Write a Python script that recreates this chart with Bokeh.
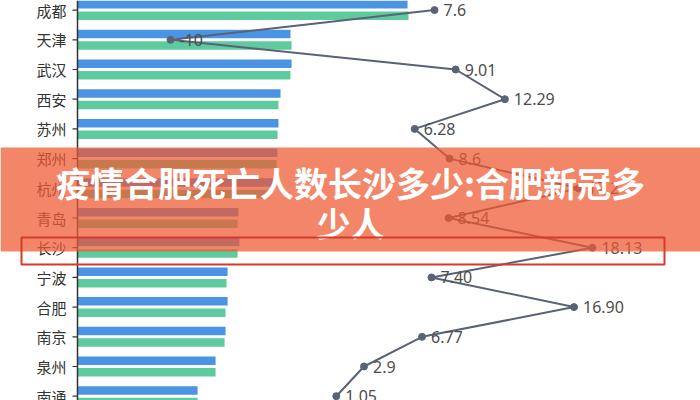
from bokeh.plotting import figure
from bokeh.models import Range1d, ColumnDataSource
from bokeh.core.properties import value
from bokeh.embed import file_html
from bokeh.resources import INLINE

# ---- data ----
cities = ["成都", "天津", "武汉", "西安", "苏州", "郑州", "杭州",
          "青岛", "长沙", "宁波", "合肥", "南京", "泉州", "南通"]
series_blue = [2089, 1348, 1355, 1285, 1272, 1266, 1241,
               1019, 1025, 950, 950, 937, 874, 760]
series_green = [2095, 1355, 1348, 1272, 1266, 1260, 1209,
                1013, 1013, 943, 937, 931, 874, 760]
rate = [7.6, -10, 9.01, 12.29, 6.28, 8.6, 17.2,
        8.54, 18.13, 7.40, 16.90, 6.77, 2.9, 1.05]
rate_labels = ["7.6", "-10", "9.01", "12.29", "6.28", "8.6", "17.2",
               "8.54", "18.13", "7.40", "16.90", "6.77", "2.9", "1.05"]
title_lines = ["疫情合肥死亡人数长沙多少:合肥新冠多", "少人"]
highlight_city = "长沙"

# ---- layout constants (pixels) ----
W, H = 700, 400
AXIS_X = 77          # px of bar zero / axis line
BAR_PX = 0.158       # px per bar unit
ROW0 = 9.6           # px centre of first row
ROW_H = 29.7         # px per row
LINE0 = 320          # px of line zero
LINE_PX = 15.0       # px per line unit

def bx(px):   # pixel -> bar data
    return (px - AXIS_X) / BAR_PX

def ry(py):   # pixel -> row data
    return (py - ROW0) / ROW_H

p = figure(width=W, height=H, output_backend="svg", toolbar_location=None,
           x_range=Range1d(bx(0), bx(W)), y_range=Range1d(ry(H), ry(0)),
           x_axis_type=None, y_axis_type=None, min_border=0)
p.extra_x_ranges = {"line": Range1d(-LINE0 / LINE_PX, (W - LINE0) / LINE_PX)}
p.outline_line_color = None
p.xgrid.visible = False
p.ygrid.visible = False
p.background_fill_color = "white"
p.border_fill_color = "white"
p.margin = (0, 0, 0, 0)

idx = list(range(len(cities)))
src = ColumnDataSource(dict(y=idx, city=cities, blue=series_blue, green=series_green,
                            rate=rate, lab=rate_labels))

bh = 8.5 / ROW_H
off = 5.75 / ROW_H
p.hbar(y=[i - off for i in idx], left=0, right=series_blue, height=bh,
       fill_color="#4B94E4", line_color=None)
p.hbar(y=[i + off for i in idx], left=0, right=series_green, height=bh,
       fill_color="#5DCB9E", line_color=None)

# manual left axis
p.segment(x0=[0], y0=[ry(0)], x1=[0], y1=[ry(H)], line_color="#333333", line_width=1.5)
p.segment(x0=[-5 / BAR_PX] * len(idx), y0=idx, x1=[0] * len(idx), y1=idx,
          line_color="#333333", line_width=1.2)
p.text(x=-11 / BAR_PX, y="y", text="city", source=src, text_align="right",
       text_baseline="middle", text_font=value("Noto Sans CJK SC"),
       text_font_size="15px", text_color="#333333")

# line series
p.line(x="rate", y="y", source=src, x_range_name="line", line_color="#5A6276", line_width=2)
p.scatter(x="rate", y="y", source=src, x_range_name="line", size=7,
          fill_color="#5A6276", line_color="#5A6276")
p.text(x="rate", y="y", text="lab", source=src, x_range_name="line", x_offset=9,
       text_baseline="middle", text_font=value("Noto Sans"), text_font_size="16px",
       text_color="#4d4d4d")

# title banner
p.quad(left=bx(0), right=bx(W), top=ry(147), bottom=ry(251),
       fill_color="#EF5932", fill_alpha=0.73, line_color=None)
p.text(x=[bx(350), bx(350)], y=[ry(182), ry(222)], text=title_lines,
       text_align="center", text_baseline="middle",
       text_font=value("Noto Sans CJK SC"), text_font_style="bold",
       text_font_size="34px", text_color="white")

# highlight rectangle
hi = cities.index(highlight_city)
p.quad(left=bx(21), right=bx(664), top=hi - 10.2 / ROW_H, bottom=hi + 16.8 / ROW_H,
       fill_color=None, line_color="#D63B2A", line_width=2)

open("out.html", "w").write(file_html(p, INLINE))
